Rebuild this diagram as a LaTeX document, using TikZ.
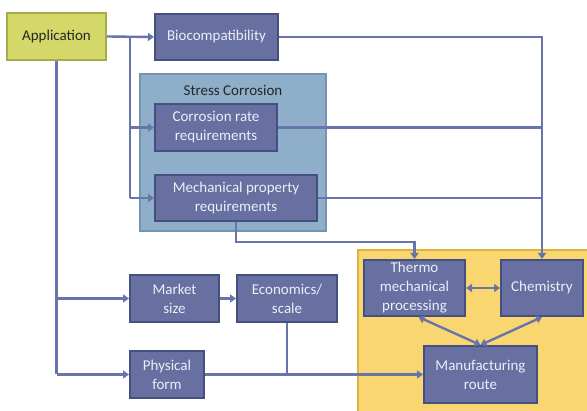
\documentclass[tikz,border=0pt]{standalone}
\usepackage{fontspec}
\setmainfont{Carlito}
\usetikzlibrary{arrows.meta}

\definecolor{boxfill}{RGB}{103,112,160}
\definecolor{boxedge}{RGB}{70,80,128}
\definecolor{boxtext}{RGB}{236,238,248}
\definecolor{wire}{RGB}{104,117,170}
\definecolor{appfill}{RGB}{212,216,104}
\definecolor{appedge}{RGB}{165,172,72}
\definecolor{scfill}{RGB}{143,174,202}
\definecolor{scedge}{RGB}{116,148,180}
\definecolor{mfgfill}{RGB}{250,214,112}
\definecolor{mfgedge}{RGB}{222,178,66}

\tikzset{
  stepbox/.style={draw=boxedge, fill=boxfill, line width=2pt, text=boxtext,
    inner sep=0pt, align=center, font=\fontsize{15}{19}\selectfont},
  appbox/.style={draw=appedge, fill=appfill, line width=2pt, text=black!85,
    inner sep=0pt, align=center, font=\fontsize{15}{19}\selectfont},
  wire/.style={draw=wire, line width=2.4pt},
  arr/.style={wire, -{Triangle[length=6pt,width=8pt]}},
  darr/.style={wire, {Triangle[length=6pt,width=8pt]}-{Triangle[length=6pt,width=8pt]}},
}

\begin{document}
\begin{tikzpicture}[x=1pt,y=-1pt]
\useasboundingbox (0,0) rectangle (587,411);
\fill[white] (0,0) rectangle (587,411);

% group panels
\begin{scope}
  \clip (0,0) rectangle (587,411);
  \draw[draw=mfgedge, fill=mfgfill, line width=2pt] (358,250) rectangle (600,425);
\end{scope}
\draw[draw=scedge, fill=scfill, line width=2pt] (140,74) rectangle (326,231);
\node[font=\fontsize{15}{18}\selectfont, text=black!85] (sctitle) at (233,90) {Stress Corrosion};

% boxes
\node[appbox, minimum width=99pt, minimum height=47pt] (app) at (56.5,36.5) {Application};
\node[stepbox, minimum width=123pt, minimum height=46pt] (bio) at (216.5,37) {Biocompatibility};
\node[stepbox, minimum width=122pt, minimum height=47pt] (corr) at (216,127.5) {Corrosion rate\\requirements};
\node[stepbox, minimum width=162pt, minimum height=46pt] (mech) at (236,198) {Mechanical property\\requirements};
\node[stepbox, minimum width=101pt, minimum height=56pt] (thermo) at (414.5,288) {Thermo\\mechanical\\processing};
\node[stepbox, minimum width=82pt, minimum height=56pt] (chem) at (542,288) {Chemistry};
\node[stepbox, minimum width=113pt, minimum height=57pt] (manu) at (480.5,374.5) {Manufacturing\\route};
\node[stepbox, minimum width=89pt, minimum height=47pt] (mkt) at (174.5,298.5) {Market\\size};
\node[stepbox, minimum width=100pt, minimum height=47pt] (eco) at (287,298.5) {Economics/\\scale};
\node[stepbox, minimum width=74pt, minimum height=47pt] (phys) at (167,374.5) {Physical\\form};

% junction points
\coordinate (s1) at (130,37);
\coordinate (s2) at (130,198);

% connectors
\draw[arr] (app.east) -- (bio.west);
\draw[wire] (s1) -- (s2);
\draw[arr] (corr.west -| s1) -- (corr.west);
\draw[arr] (s2) -- (mech.west);
\draw[wire] (app.south) -- (app.south |- phys.west);
\draw[arr] (app.south |- phys.west) -- (phys.west);
\draw[arr] (app.south |- mkt.west) -- (mkt.west);
\draw[arr] (mkt.east) -- (eco.west);
\draw[arr] (bio.east) -| (chem.north);
\draw[wire] (corr.east) -- (corr.east -| chem.north);
\draw[wire] (mech.east) -- (mech.east -| chem.north);
\draw[arr] (mech.south) -- ++(0,20) -| (thermo.north);
\draw[wire] (eco.south) -- (eco.south |- manu.west);
\draw[arr] (phys.east) -- (manu.west);
\draw[darr] (thermo.east) -- (chem.west);
\draw[darr] ([xshift=4pt]thermo.south) -- (manu.north);
\draw[darr] (chem.south) -- (manu.north);
\end{tikzpicture}
\end{document}
